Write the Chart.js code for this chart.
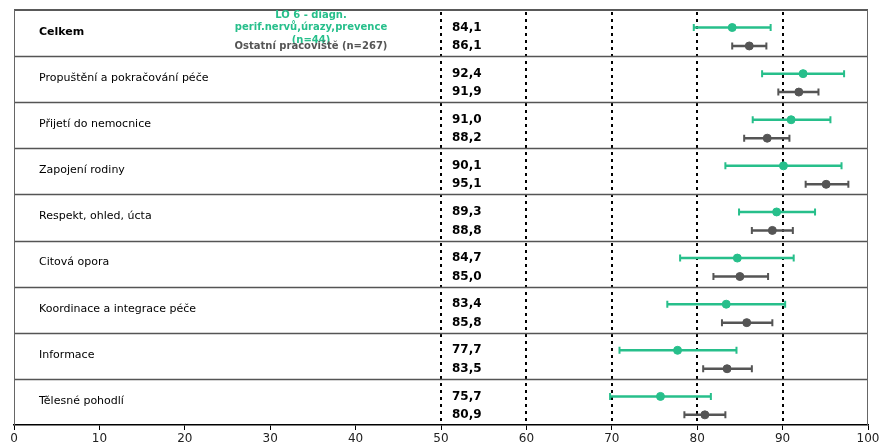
<!DOCTYPE html>
<html>
<head>
<meta charset="utf-8">
<script src="https://cdn.jsdelivr.net/npm/chart.js@4.4.1/dist/chart.umd.min.js"></script>
<style>
html,body{margin:0;padding:0;background:#fff;}
#wrap{width:881px;height:448px;}
</style>
</head>
<body>
<div id="wrap"><canvas id="c" width="881" height="448"></canvas></div>
<script>
const categories = ["Celkem","Propuštění a pokračování péče","Přijetí do nemocnice","Zapojení rodiny","Respekt, ohled, úcta","Citová opora","Koordinace a integrace péče","Informace","Tělesné pohodlí"];
const groupValues = [84.1,92.4,91.0,90.1,89.3,84.7,83.4,77.7,75.7];
const groupLow    = [79.6,87.6,86.5,83.3,84.9,78.0,76.5,70.9,69.8];
const groupHigh   = [88.6,97.2,95.6,96.9,93.8,91.3,90.3,84.6,81.6];
const otherValues = [86.1,91.9,88.2,95.1,88.8,85.0,85.8,83.5,80.9];
const otherLow    = [84.1,89.5,85.5,92.7,86.4,81.9,82.9,80.7,78.5];
const otherHigh   = [88.1,94.2,90.8,97.7,91.2,88.3,88.8,86.4,83.3];
const groupLegend = ["LO 6 - diagn.","perif.nervů,úrazy,prevence","(n=44)"];
const otherLegend = "Ostatní pracoviště (n=267)";
const refLines = [50,60,70,80,90];

const GREEN = "#27bf8b";
const GREY = "#555555";
const GREEN_OFF = 0.38, GREY_OFF = 0.78;
const fmt = v => v.toFixed(1).replace(".", ",");

const decor = {
  id: "decor",
  beforeDatasetsDraw(chart) {
    const {ctx, chartArea: a, scales: {x, y}} = chart;
    ctx.save();
    // dotted reference lines
    ctx.strokeStyle = "#000";
    ctx.lineWidth = 2;
    ctx.setLineDash([3, 4]);
    refLines.forEach(v => {
      const px = Math.round(x.getPixelForValue(v));
      ctx.beginPath(); ctx.moveTo(px, a.top + 2); ctx.lineTo(px, a.bottom); ctx.stroke();
    });
    ctx.setLineDash([]);
    // row separators
    ctx.strokeStyle = "#555";
    ctx.lineWidth = 1.5;
    for (let i = 1; i < categories.length; i++) {
      const py = Math.round(y.getPixelForValue(i)) + 0.5;
      ctx.beginPath(); ctx.moveTo(a.left, py); ctx.lineTo(a.right, py); ctx.stroke();
    }
    // box
    ctx.strokeStyle = "#222";
    ctx.lineWidth = 1.5;
    ctx.beginPath(); ctx.moveTo(a.left, a.top); ctx.lineTo(a.right, a.top); ctx.stroke();
    ctx.strokeStyle = "#666";
    ctx.lineWidth = 1;
    ctx.beginPath(); ctx.moveTo(a.left + 0.5, a.top); ctx.lineTo(a.left + 0.5, a.bottom); ctx.stroke();
    ctx.beginPath(); ctx.moveTo(a.right - 0.5, a.top); ctx.lineTo(a.right - 0.5, a.bottom); ctx.stroke();
    // category labels
    ctx.textBaseline = "middle";
    ctx.textAlign = "left";
    categories.forEach((c, i) => {
      ctx.font = (i === 0 ? "bold " : "") + "11px 'DejaVu Sans'";
      ctx.fillStyle = "#000";
      ctx.fillText(c, 39, y.getPixelForValue(i + 0.5) - 1);
    });
    // value labels
    ctx.font = "bold 12px 'DejaVu Sans'";
    ctx.fillStyle = "#000";
    const lx = x.getPixelForValue(50) + 11;
    categories.forEach((c, i) => {
      ctx.fillText(fmt(groupValues[i]), lx, y.getPixelForValue(i + GREEN_OFF));
      ctx.fillText(fmt(otherValues[i]), lx, y.getPixelForValue(i + GREY_OFF));
    });
    // error bars
    const bar = (lo, hi, v, color, lw) => {
      const py = y.getPixelForValue(v);
      const x1 = x.getPixelForValue(lo), x2 = x.getPixelForValue(hi);
      ctx.strokeStyle = color;
      ctx.lineWidth = lw;
      ctx.beginPath(); ctx.moveTo(x1, py); ctx.lineTo(x2, py); ctx.stroke();
      ctx.lineWidth = 2;
      ctx.beginPath(); ctx.moveTo(x1, py - 3.5); ctx.lineTo(x1, py + 3.5); ctx.moveTo(x2, py - 3.5); ctx.lineTo(x2, py + 3.5); ctx.stroke();
    };
    categories.forEach((c, i) => {
      bar(groupLow[i], groupHigh[i], i + GREEN_OFF, GREEN, 2.5);
      bar(otherLow[i], otherHigh[i], i + GREY_OFF, GREY, 2.5);
    });
    // legend text
    ctx.textAlign = "center";
    ctx.font = "bold 10px 'DejaVu Sans'";
    ctx.fillStyle = GREEN;
    groupLegend.forEach((t, k) => ctx.fillText(t, 311, 15 + k * 12.5));
    ctx.fillStyle = "#555";
    ctx.fillText(otherLegend, 311, 46);
    ctx.restore();
  }
};

new Chart(document.getElementById("c"), {
  type: "scatter",
  data: {
    datasets: [
      {
        label: groupLegend.join(" "),
        data: groupValues.map((v, i) => ({x: v, y: i + GREEN_OFF})),
        backgroundColor: GREEN, borderColor: GREEN, pointRadius: 4, pointHoverRadius: 4
      },
      {
        label: otherLegend,
        data: otherValues.map((v, i) => ({x: v, y: i + GREY_OFF})),
        backgroundColor: GREY, borderColor: GREY, pointRadius: 4, pointHoverRadius: 4
      }
    ]
  },
  options: {
    responsive: false,
    animation: false,
    layout: {padding: {left: 14, right: 2, top: 10, bottom: 0}},
    plugins: {legend: {display: false}, tooltip: {enabled: false}},
    scales: {
      x: {
        min: 0, max: 100,
        afterFit(scale) { scale.paddingRight = 13; },
        ticks: {stepSize: 10, color: "#222", font: {family: "'DejaVu Sans'", size: 12, lineHeight: 1.0}, padding: 3, maxRotation: 0},
        grid: {drawOnChartArea: false, color: "#000", tickLength: 5, lineWidth: 1},
        border: {display: true, color: "#000", width: 1.5}
      },
      y: {
        display: false, min: 0, max: 9, reverse: true
      }
    }
  },
  plugins: [decor]
});
</script>
</body>
</html>
